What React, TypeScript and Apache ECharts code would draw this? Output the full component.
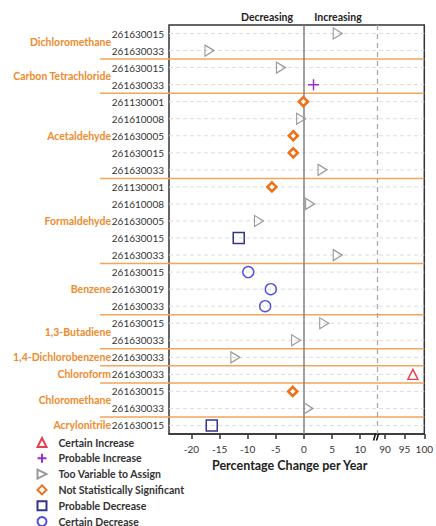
import React, { useEffect, useRef } from "react";
import * as echarts from "echarts";

// ---------- data ----------
const pollutants = [
  "Dichloromethane",
  "Carbon Tetrachloride",
  "Acetaldehyde",
  "Formaldehyde",
  "Benzene",
  "1,3-Butadiene",
  "1,4-Dichlorobenzene",
  "Chloroform",
  "Chloromethane",
  "Acrylonitrile",
];
const pollutantSiteCounts = [2, 2, 5, 5, 3, 2, 1, 1, 2, 1];

const siteIds = [
  "261630015", "261630033",
  "261630015", "261630033",
  "261130001", "261610008", "261630005", "261630015", "261630033",
  "261130001", "261610008", "261630005", "261630015", "261630033",
  "261630015", "261630019", "261630033",
  "261630015", "261630033",
  "261630033",
  "261630033",
  "261630015", "261630033",
  "261630015",
];

// percentage change per year for each site row
const changes = [
  6.0, -16.8,
  -4.1, 1.7,
  -0.1, -0.5, -1.9, -1.9, 3.3,
  -5.7, 1.1, -8.0, -11.6, 6.0,
  -9.9, -5.9, -6.9,
  3.6, -1.4,
  -12.2,
  97.1,
  -2.0, 0.8,
  -16.4,
];

// trend class for each site row
const trends = [
  "TV", "TV",
  "TV", "PI",
  "NS", "TV", "NS", "NS", "TV",
  "NS", "TV", "TV", "PD", "TV",
  "CD", "CD", "CD",
  "TV", "TV",
  "TV",
  "CI",
  "NS", "TV",
  "PD",
];

const xTickValues = [-20, -15, -10, -5, 0, 5, 10, 90, 95, 100];
const axisMinValue = -24;
const axisMaxValue = 100;

// ---------- broken axis mapping ----------
const BREAK_AT = 13;
const RIGHT_FROM = 88;
const RIGHT_SCALE = 0.7;
const toAxis = (v: number) =>
  v <= BREAK_AT ? v : BREAK_AT + (v - RIGHT_FROM) * RIGHT_SCALE;
const fromAxis = (t: number) =>
  t <= BREAK_AT + 1e-9 ? Math.round(t) : Math.round((t - BREAK_AT) / RIGHT_SCALE + RIGHT_FROM);

const X_MIN = toAxis(axisMinValue);
const X_MAX = toAxis(axisMaxValue);

// ---------- styles ----------
const FONT = "Lato, 'Open Sans', sans-serif";
const ORANGE = "#EE8B2C";
const SEP = "#F2A55C";

const trendDefs = [
  { code: "CI", name: "Certain Increase", symbol: "triangle", size: 10, stroke: "#E8404F", fill: "rgba(255,255,255,0)", width: 1.4 },
  { code: "PI", name: "Probable Increase", symbol: "path://M5,0L5,10M0,5L10,5", size: 11, stroke: "#9B30C8", fill: "rgba(255,255,255,0)", width: 1.5 },
  { code: "TV", name: "Too Variable to Assign", symbol: "path://M0,0L10,5L0,10Z", size: [9, 11], stroke: "#9A9A9A", fill: "rgba(255,255,255,0)", width: 1.2 },
  { code: "NS", name: "Not Statistically Significant", symbol: "diamond", size: 9, stroke: "#F07015", fill: "#ffffff", width: 2.6 },
  { code: "PD", name: "Probable Decrease", symbol: "rect", size: 11, stroke: "#34348A", fill: "rgba(255,255,255,0)", width: 1.5 },
  { code: "CD", name: "Certain Decrease", symbol: "circle", size: 11, stroke: "#4F4FE0", fill: "rgba(255,255,255,0)", width: 1.4 },
];

const groupStarts: number[] = [];
{
  let s = 0;
  pollutantSiteCounts.forEach((c) => {
    groupStarts.push(s);
    s += c;
  });
}

export default function App() {
  const ref = useRef<HTMLDivElement>(null);

  useEffect(() => {
    document.body.style.margin = "0";
    const chart = echarts.init(ref.current!, undefined, { renderer: "svg" });

    const scatterSeries = trendDefs.map((d) => ({
      name: d.name,
      type: "scatter",
      symbol: d.symbol,
      symbolSize: d.size,
      z: 5,
      itemStyle: { color: d.fill, borderColor: d.stroke, borderWidth: d.width, opacity: 1 },
      data: changes
        .map((v, i) => ({ v, i }))
        .filter((o) => trends[o.i] === d.code)
        .map((o) => [toAxis(o.v), o.i]),
    }));

    const option: any = {
      animation: false,
      backgroundColor: "#ffffff",
      textStyle: { fontFamily: FONT },
      grid: {
        left: 169,
        right: 7,
        top: 25,
        bottom: 92,
        show: true,
        borderColor: "#333",
        borderWidth: 1.5,
        backgroundColor: "transparent",
      },
      xAxis: {
        type: "value",
        min: X_MIN,
        max: X_MAX,
        splitLine: { show: false },
        axisLine: { show: true, lineStyle: { color: "#333", width: 1.5 } },
        axisTick: {
          show: true,
          inside: false,
          length: 5,
          lineStyle: { color: "#333", width: 1.5 },
          customValues: xTickValues.map(toAxis),
        },
        axisLabel: {
          color: "#333",
          fontSize: 10,
          fontFamily: FONT,
          margin: 10,
          customValues: xTickValues.map(toAxis),
          formatter: (t: number) => String(fromAxis(t)),
        },
        name: "Percentage Change per Year",
        nameLocation: "middle",
        nameGap: 24,
        nameTextStyle: {
          fontWeight: "bold",
          fontSize: 12.5,
          color: "#222",
          fontFamily: FONT,
          padding: [0, 14, 0, 0],
        },
      },
      yAxis: {
        type: "category",
        inverse: true,
        data: siteIds.map((_, i) => String(i)),
        axisLine: { show: false },
        axisTick: { show: false },
        splitLine: { show: false },
        axisLabel: {
          color: "#333",
          fontSize: 10,
          fontFamily: FONT,
          margin: 5,
          formatter: (_v: string, idx: number) => siteIds[idx],
        },
      },
      legend: {
        orient: "vertical",
        left: 36.5,
        top: 437,
        height: 120,
        padding: 0,
        itemWidth: 9,
        itemHeight: 9,
        itemGap: 4.8,
        selectedMode: false,
        data: trendDefs.map((d) => d.name),
        textStyle: {
          color: "#333",
          fontSize: 10.5,
          fontWeight: "bold",
          fontFamily: FONT,
          padding: [0, 0, 0, 7],
        },
      },
      graphic: [
        {
          type: "text",
          x: 267,
          y: 17,
          style: { text: "Decreasing", align: "center", verticalAlign: "middle", fill: "#222", fontSize: 10.5, fontWeight: "bold", fontFamily: FONT },
        },
        {
          type: "text",
          x: 338,
          y: 17,
          style: { text: "Increasing", align: "center", verticalAlign: "middle", fill: "#222", fontSize: 10.5, fontWeight: "bold", fontFamily: FONT },
        },
      ],
      series: [
        // row dashed guide lines + reference vertical lines
        {
          type: "custom",
          silent: true,
          z: 1,
          data: siteIds.map((_, i) => [0, i]),
          renderItem: (_params: any, api: any) => {
            const i = api.value(1);
            const a = api.coord([X_MIN, i]);
            const b = api.coord([X_MAX, i]);
            return {
              type: "line",
              shape: { x1: a[0], y1: a[1], x2: b[0], y2: b[1] },
              style: { stroke: "#dcdcdc", lineWidth: 1, lineDash: [4, 3] },
            };
          },
          markLine: {
            silent: true,
            symbol: ["none", "none"],
            label: { show: false },
            data: [
              { xAxis: 0, lineStyle: { color: "#8a8a8a", width: 1.6, type: "solid" } },
              { xAxis: BREAK_AT, lineStyle: { color: "#aaaaaa", width: 1.3, type: [5, 4] } },
            ],
          },
        },
        // pollutant group labels and separators
        {
          type: "custom",
          silent: true,
          z: 3,
          data: pollutants.map((_, g) => [0, groupStarts[g]]),
          renderItem: (params: any, api: any) => {
            const g = params.dataIndex;
            const start = groupStarts[g];
            const end = start + pollutantSiteCounts[g] - 1;
            const band = api.size([0, 1])[1];
            const top = api.coord([X_MIN, start]);
            const bot = api.coord([X_MIN, end]);
            const right = api.coord([X_MAX, end]);
            const children: any[] = [
              {
                type: "text",
                style: {
                  text: pollutants[g],
                  x: top[0] - 58,
                  y: (top[1] + bot[1]) / 2,
                  align: "right",
                  verticalAlign: "middle",
                  fill: ORANGE,
                  fontSize: 10.5,
                  fontWeight: "bold",
                  fontFamily: FONT,
                },
              },
            ];
            if (g < pollutants.length - 1) {
              const y = bot[1] + band / 2;
              children.push({
                type: "line",
                shape: { x1: top[0] - 69, y1: y, x2: right[0], y2: y },
                style: { stroke: SEP, lineWidth: 1.5 },
              });
            }
            return { type: "group", children };
          },
        },
        // axis break mark
        {
          type: "custom",
          silent: true,
          z: 6,
          data: [[BREAK_AT, siteIds.length - 1]],
          renderItem: (_params: any, api: any) => {
            const band = api.size([0, 1])[1];
            const p = api.coord([api.value(0), api.value(1)]);
            const x = p[0];
            const y = p[1] + band / 2;
            return {
              type: "group",
              children: [
                { type: "line", shape: { x1: x - 3.5, y1: y + 6.5, x2: x - 1.5, y2: y - 0.5 }, style: { stroke: "#111", lineWidth: 1.5 } },
                { type: "line", shape: { x1: x - 0.5, y1: y + 6.5, x2: x + 1.5, y2: y - 0.5 }, style: { stroke: "#111", lineWidth: 1.5 } },
              ],
            };
          },
        },
        ...scatterSeries,
      ],
    };

    chart.setOption(option);
    return () => chart.dispose();
  }, []);

  return (
    <div
      ref={ref}
      style={{ position: "absolute", left: 0, top: 0, width: 436, height: 526 }}
    />
  );
}
